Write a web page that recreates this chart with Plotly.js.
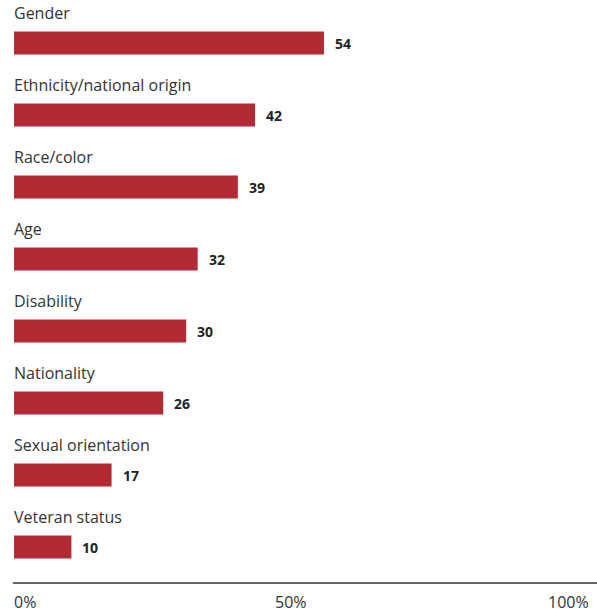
<!DOCTYPE html>
<html><head><meta charset="utf-8">
<script src="https://cdn.plot.ly/plotly-3.0.1.min.js"></script>
<style>html,body{margin:0;padding:0;background:#fff}</style>
</head><body>
<div id="chart" style="width:597px;height:614px"></div>
<script>
const categories = ["Gender","Ethnicity/national origin","Race/color","Age","Disability","Nationality","Sexual orientation","Veteran status"];
const values = [54,42,39,32,30,26,17,10];
const tickVals = [0,50,100];
const tickLabels = ["0%","50%","100%"];

const FONT = "Open Sans, Noto Sans, sans-serif";
const barColor = "#B22A34";

const trace = {
  type: "bar", orientation: "h",
  x: values, y: categories,
  marker: {color: barColor},
  width: 0.32,
  hoverinfo: "none"
};

const annotations = [];
categories.forEach((c, i) => {
  annotations.push({x: 0, y: c, xref: "x", yref: "y", text: c, showarrow: false,
    xanchor: "left", yanchor: "middle", yshift: 30, xshift: -2,
    font: {family: FONT, size: 16, color: "#333"}});
  annotations.push({x: values[i], y: c, xref: "x", yref: "y", text: "<b>" + values[i] + "</b>", showarrow: false,
    xanchor: "left", yanchor: "middle", xshift: 9,
    font: {family: FONT, size: 14, color: "#222"}});
});
const anchors = ["left","center","right"];
const shifts = [-2, 0, 3];
tickVals.forEach((v, i) => {
  annotations.push({x: v === 50 ? 48.3 : v, y: 0, xref: "x", yref: "paper", text: tickLabels[i], showarrow: false,
    xanchor: anchors[i], yanchor: "top", yshift: -6, xshift: shifts[i],
    font: {family: FONT, size: 16, color: "#333"}});
});

const layout = {
  width: 597, height: 614,
  margin: {l: 14, r: 9, t: 7, b: 31},
  paper_bgcolor: "#fff", plot_bgcolor: "#fff",
  showlegend: false,
  xaxis: {range: [0, 100], showgrid: false, zeroline: false, showticklabels: false, ticks: "", showline: false, fixedrange: true},
  yaxis: {type: "category", range: [7.5, -0.5], autorange: false, showgrid: false, zeroline: false, showticklabels: false, ticks: "", showline: false, fixedrange: true},
  shapes: [{type: "line", xref: "paper", yref: "paper", x0: -0.002, x1: 1.02, y0: 0, y1: 0, line: {color: "#333", width: 1.5}}],
  annotations: annotations
};
Plotly.newPlot("chart", [trace], layout, {displayModeBar: false, staticPlot: true});
</script>
</body></html>
